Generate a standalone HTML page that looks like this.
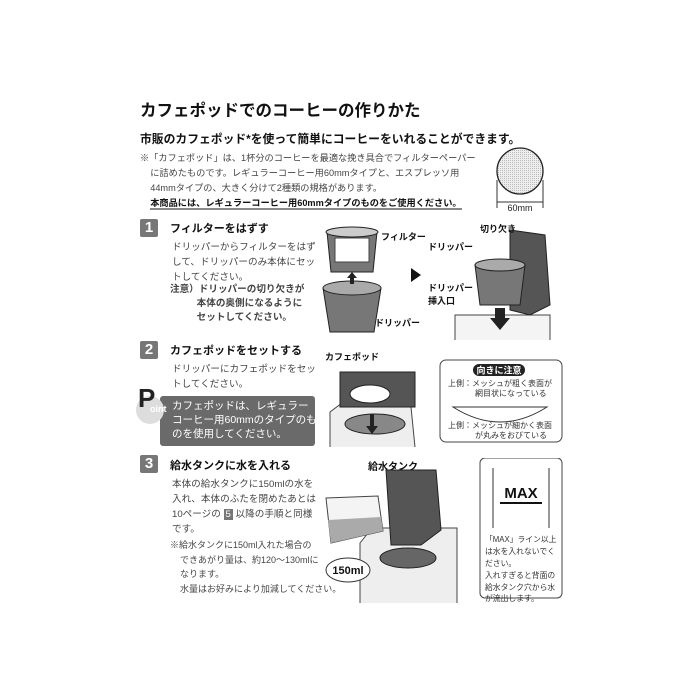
<!DOCTYPE html>
<html><head><meta charset="utf-8"><style>
body{margin:0;width:700px;height:700px;background:#fff;position:relative;overflow:hidden;font-family:"Liberation Sans","Noto Sans CJK JP",sans-serif;color:#333}
.a{position:absolute;white-space:nowrap}
.b{font-weight:bold;color:#111}
.badge{position:absolute;width:18px;height:18px;background:#777;color:#fff;font-weight:bold;font-size:15px;text-align:center;line-height:18px;border-radius:2px}
.t{font-size:9.6px;line-height:15px;color:#444}
</style></head><body>
<div class="a b" style="left:140px;top:97px;font-size:16.5px">カフェポッドでのコーヒーの作りかた</div>
<div class="a b" style="left:140px;top:130px;font-size:11.8px">市販のカフェポッド*を使って簡単にコーヒーをいれることができます。</div>
<div class="a t" style="left:140px;top:151px;font-size:9.2px">※「カフェポッド」は、1杯分のコーヒーを最適な挽き具合でフィルターペーパー<br>&nbsp;&nbsp;&nbsp;&nbsp;に詰めたものです。レギュラーコーヒー用60mmタイプと、エスプレッソ用<br>&nbsp;&nbsp;&nbsp;&nbsp;44mmタイプの、大きく分けて2種類の規格があります。<br>&nbsp;&nbsp;&nbsp;&nbsp;<b style="color:#111;border-bottom:2px solid #888">本商品には、レギュラーコーヒー用60mmタイプのものをご使用ください。</b></div>
<svg class="a" style="left:490px;top:140px" width="65" height="75">
<defs><pattern id="m" width="2" height="2" patternUnits="userSpaceOnUse"><rect width="2" height="2" fill="#eee"/><rect width="1" height="1" fill="#bbb"/></pattern></defs>
<circle cx="30" cy="31" r="23" fill="url(#m)" stroke="#222" stroke-width="1.3"/>
<line x1="7" y1="40" x2="7" y2="68" stroke="#333"/><line x1="53" y1="40" x2="53" y2="68" stroke="#333"/>
<line x1="7" y1="62" x2="53" y2="62" stroke="#333"/>
<text x="30" y="71" font-size="9" text-anchor="middle" fill="#222" font-family="Liberation Sans">60mm</text></svg>

<div class="badge" style="left:140px;top:219px">1</div>
<div class="a b" style="left:170px;top:220px;font-size:11px">フィルターをはずす</div>
<div class="a t" style="left:172px;top:240px">ドリッパーからフィルターをはず<br>して、ドリッパーのみ本体にセッ<br>トしてください。</div>
<div class="a t b" style="left:170px;top:283px;line-height:14px">注意）ドリッパーの切り欠きが<br>&nbsp;&nbsp;&nbsp;&nbsp;&nbsp;&nbsp;&nbsp;&nbsp;&nbsp;&nbsp;本体の奥側になるように<br>&nbsp;&nbsp;&nbsp;&nbsp;&nbsp;&nbsp;&nbsp;&nbsp;&nbsp;&nbsp;セットしてください。</div>
<svg class="a" style="left:315px;top:220px" width="250" height="120" font-family="Liberation Sans,Noto Sans CJK JP" font-size="9" font-weight="bold" fill="#111">
<path d="M12 12 h50 l-4 40 h-42z" fill="#777" stroke="#222"/><rect x="20" y="18" width="34" height="24" fill="#fff" stroke="#444"/>
<ellipse cx="37" cy="12" rx="26" ry="5" fill="#ccc" stroke="#222"/>
<path d="M8 68 h58 l-7 44 h-44z" fill="#777" stroke="#222"/><ellipse cx="37" cy="68" rx="29" ry="7" fill="#aaa" stroke="#222"/>
<path d="M37 52 l-5 6 h3 v6 h4 v-6 h3z" fill="#222"/>
<text x="66" y="20">フィルター</text><text x="60" y="106">ドリッパー</text>
<path d="M96 48 l10 7 l-10 7z" fill="#111"/>
<path d="M140 120 v-25 h95 v25" fill="#f4f4f4" stroke="#444"/>
<path d="M195 10 l35 5 l5 70 l-20 10 l-20 -5z" fill="#555" stroke="#222"/>
<path d="M160 45 h50 l-5 40 h-40z" fill="#777" stroke="#222"/><ellipse cx="185" cy="45" rx="25" ry="6" fill="#aaa" stroke="#222"/>
<path d="M180 88 h10 v10 h5 l-10 12 l-10 -12 h5z" fill="#222"/>
<text x="165" y="12">切り欠き</text><text x="113" y="30">ドリッパー</text>
<text x="113" y="71">ドリッパー</text><text x="113" y="84">挿入口</text></svg>

<div class="badge" style="left:140px;top:341px">2</div>
<div class="a b" style="left:170px;top:342px;font-size:11px">カフェポッドをセットする</div>
<div class="a t" style="left:172px;top:362px">ドリッパーにカフェポッドをセッ<br>トしてください。</div>
<div class="a" style="left:160px;top:396px;width:155px;height:50px;background:#6a6a6a;border-radius:3px"></div>
<div class="a" style="left:136px;top:396px;width:28px;height:28px;border-radius:50%;background:#ddd"></div>
<div class="a b" style="left:138px;top:383px;font-size:26px;color:#222">P</div>
<div class="a b" style="left:150px;top:404px;font-size:9px;color:#fff">oint</div>
<div class="a" style="left:172px;top:399px;color:#fff;font-size:10.5px;line-height:14px">カフェポッドは、レギュラー<br>コーヒー用60mmのタイプのも<br>のを使用してください。</div>
<svg class="a" style="left:325px;top:352px" width="240" height="95" font-family="Liberation Sans,Noto Sans CJK JP" font-size="8" fill="#333">
<text x="0" y="8" font-weight="bold" font-size="9" fill="#111">カフェポッド</text>
<path d="M5 95 v-35 l20 -15 h60 l5 50" fill="#eee" stroke="#444"/>
<path d="M15 20 h75 v35 h-75z" fill="#555" stroke="#222"/>
<ellipse cx="50" cy="72" rx="30" ry="10" fill="#888" stroke="#222"/>
<ellipse cx="45" cy="42" rx="20" ry="9" fill="#fff" stroke="#222"/>
<path d="M45 62 v12 h-4 l6 8 l6 -8 h-4 v-12z" fill="#222"/>
<rect x="115" y="8" width="122" height="82" rx="6" fill="#fff" stroke="#444"/>
<rect x="148" y="12" width="52" height="12" rx="6" fill="#222"/>
<text x="174" y="21.5" text-anchor="middle" fill="#fff" font-size="9" font-weight="bold">向きに注意</text>
<text x="123" y="34">上側：メッシュが粗く表面が</text><text x="150" y="44">網目状になっている</text>
<path d="M128 55 q47 30 94 0z" fill="#fff" stroke="#333"/>
<text x="123" y="76">上側：メッシュが細かく表面</text><text x="150" y="86">が丸みをおびている</text></svg>

<div class="badge" style="left:140px;top:455px">3</div>
<div class="a b" style="left:170px;top:457px;font-size:11px">給水タンクに水を入れる</div>
<div class="a t" style="left:172px;top:477px">本体の給水タンクに150mlの水を<br>入れ、本体のふたを閉めたあとは<br>10ページの <span style="background:#777;color:#fff;padding:0 2px">5</span> 以降の手順と同様<br>です。</div>
<div class="a t" style="left:170px;top:538px;font-size:9px;line-height:14.5px">※給水タンクに150ml入れた場合の<br>&nbsp;&nbsp;&nbsp;&nbsp;できあがり量は、約120〜130mlに<br>&nbsp;&nbsp;&nbsp;&nbsp;なります。<br>&nbsp;&nbsp;&nbsp;&nbsp;水量はお好みにより加減してください。</div>
<svg class="a" style="left:318px;top:458px" width="250" height="145" font-family="Liberation Sans,Noto Sans CJK JP" fill="#111">
<text x="50" y="12" font-size="10" font-weight="bold">給水タンク</text>
<path d="M42 145 v-60 l12 -15 h85 v75" fill="#eee" stroke="#444"/>
<path d="M68 12 h50 l5 60 l-20 15 h-30z" fill="#555" stroke="#222"/>
<ellipse cx="90" cy="100" rx="28" ry="10" fill="#666" stroke="#222"/>
<path d="M8 40 l52 -2 l5 35 l-52 12 z" fill="#f4f4f4" stroke="#444"/>
<path d="M10 62 l53 -3 l2 14 l-52 12z" fill="#aaa"/>
<ellipse cx="30" cy="112" rx="22" ry="12" fill="#fff" stroke="#333"/>
<text x="30" y="116" font-size="11" font-weight="bold" text-anchor="middle">150ml</text>
<rect x="162" y="0" width="82" height="140" rx="5" fill="#fff" stroke="#444"/>
<line x1="175" y1="10" x2="175" y2="70" stroke="#333"/><line x1="231" y1="10" x2="231" y2="70" stroke="#333"/>
<text x="203" y="40" font-size="15" font-weight="bold" text-anchor="middle">MAX</text>
<rect x="182" y="44" width="42" height="2" fill="#111"/>
<g font-size="7.8" fill="#333"><text x="167" y="84">「MAX」ライン以上</text><text x="167" y="96">は水を入れないでく</text><text x="167" y="108">ださい。</text><text x="167" y="120">入れすぎると背面の</text><text x="167" y="132">給水タンク穴から水</text><text x="167" y="143">が流出します。</text></g></svg>
</body></html>
